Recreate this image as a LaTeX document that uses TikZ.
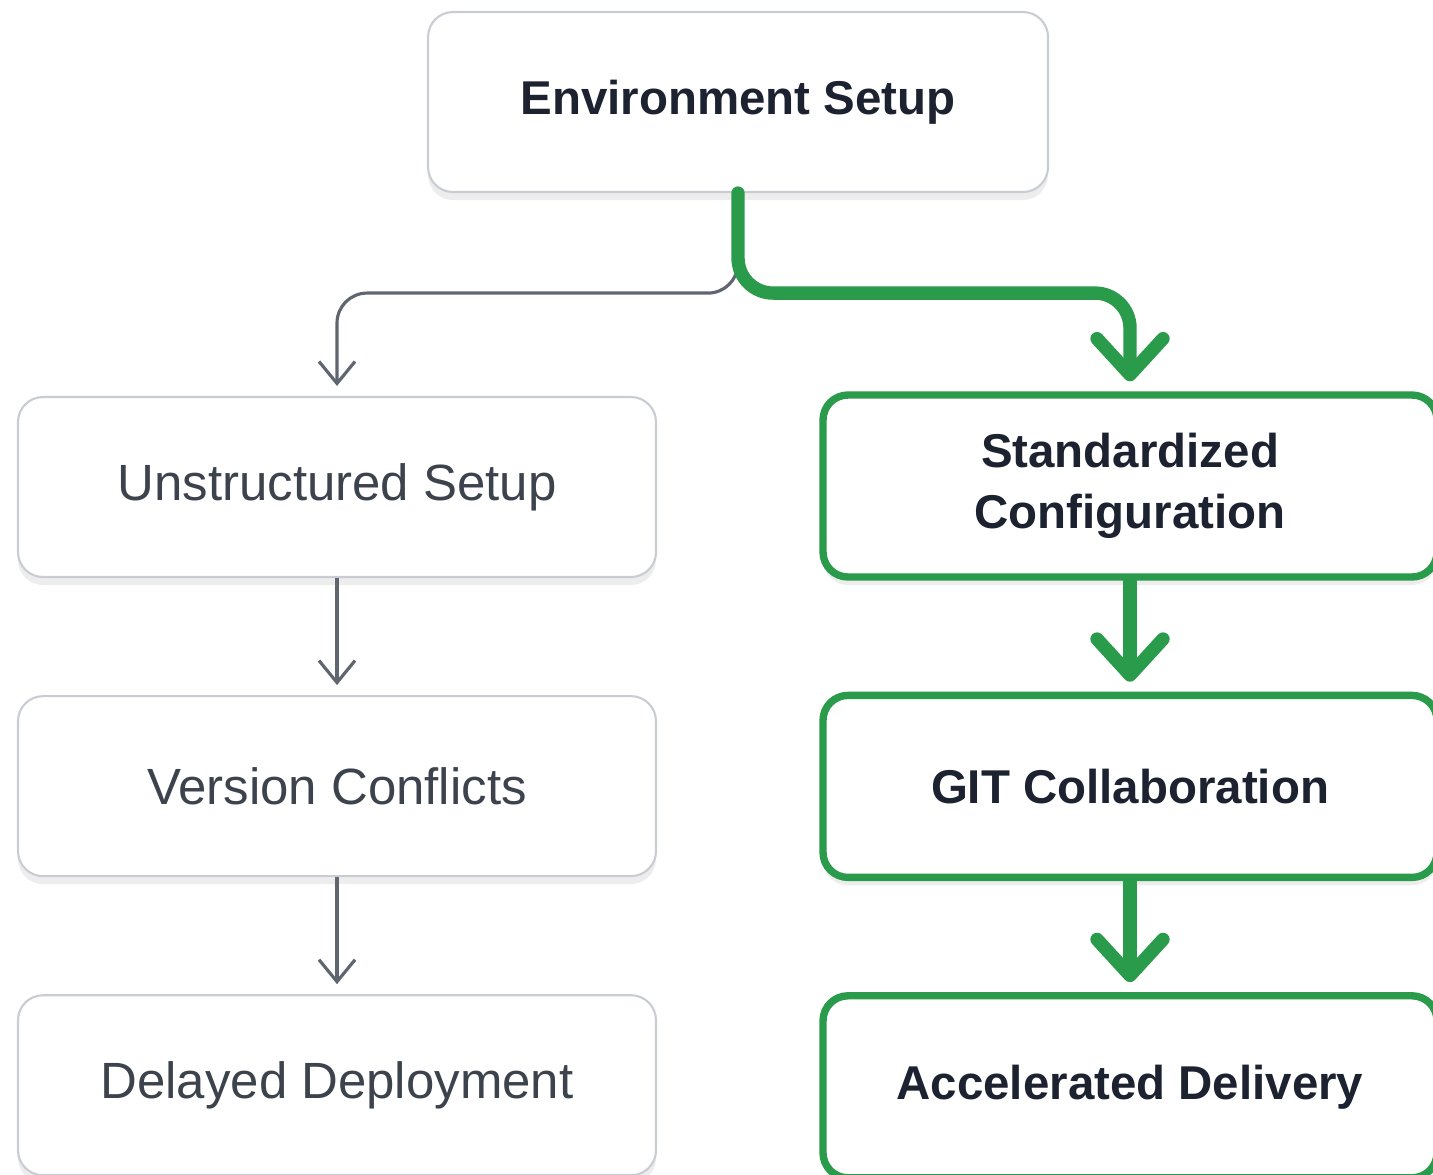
\documentclass[tikz,border=0pt]{standalone}
\usepackage{fontspec}
\setmainfont{Liberation Sans}
\usetikzlibrary{positioning,arrows.meta,shadows}
\definecolor{okgreen}{HTML}{2A9A4B}
\definecolor{boxgrey}{HTML}{C9CDD3}
\definecolor{linegrey}{HTML}{5F6670}
\definecolor{textgrey}{HTML}{3D434C}
\definecolor{textdark}{HTML}{1C2230}
\tikzset{block/.style={draw=boxgrey,line width=0.6pt,fill=white,rounded corners=0.25cm,minimum width=6.38cm,minimum height=1.8cm,align=center,text=textgrey,font=\fontsize{14.5}{17}\selectfont,drop shadow={opacity=0.14,shadow xshift=0pt,shadow yshift=-0.8mm}},
         topblock/.style={block,minimum width=6.2cm,text=textdark,font=\fontsize{13.5}{17}\selectfont\bfseries},
         goodblock/.style={block,draw=okgreen,line width=2.1pt,minimum width=6.14cm,minimum height=1.82cm,text=textdark,font=\fontsize{13.5}{17.4}\selectfont\bfseries}
}
\tikzstyle{badarrow} = [draw=linegrey,line width=0.9pt,-{Straight Barb[length=2.2mm,width=3.6mm]},shorten >=0.1cm]
\tikzstyle{goodarrow} = [draw=okgreen,line width=3.8pt,line cap=round,line join=round,-{Straight Barb[length=3.6mm,width=6.6mm,line cap=round,line join=round]},shorten >=0.1cm]

\begin{document}
\begin{tikzpicture}
\useasboundingbox (0,0) rectangle (14.33,-11.74);

\node[topblock] (env) at (7.38,-1.02) {Environment Setup};
\node[block] (unstructured) at (3.37,-4.87) {Unstructured Setup};
\node[block,below=1.17cm of unstructured] (conflicts) {Version Conflicts};
\node[block,below=1.17cm of conflicts] (delayed) {Delayed Deployment};
\node[goodblock] (standard) at (11.30,-4.86) {Standardized\\Configuration};
\node[goodblock,below=1.11cm of standard] (git) {GIT Collaboration};
\node[goodblock,below=1.11cm of git] (accel) {Accelerated Delivery};
\coordinate[below=1.0cm of env] (split);

\draw[badarrow,rounded corners=0.3cm] (env.south) -- (split) -| (unstructured.north);
\draw[badarrow] (unstructured)--(conflicts);
\draw[badarrow] (conflicts)--(delayed);
\draw[goodarrow,rounded corners=0.35cm] (env.south) -- (split) -| (standard.north);
\draw[goodarrow] (standard)--(git);
\draw[goodarrow] (git)--(accel);

\end{tikzpicture}
\end{document}
